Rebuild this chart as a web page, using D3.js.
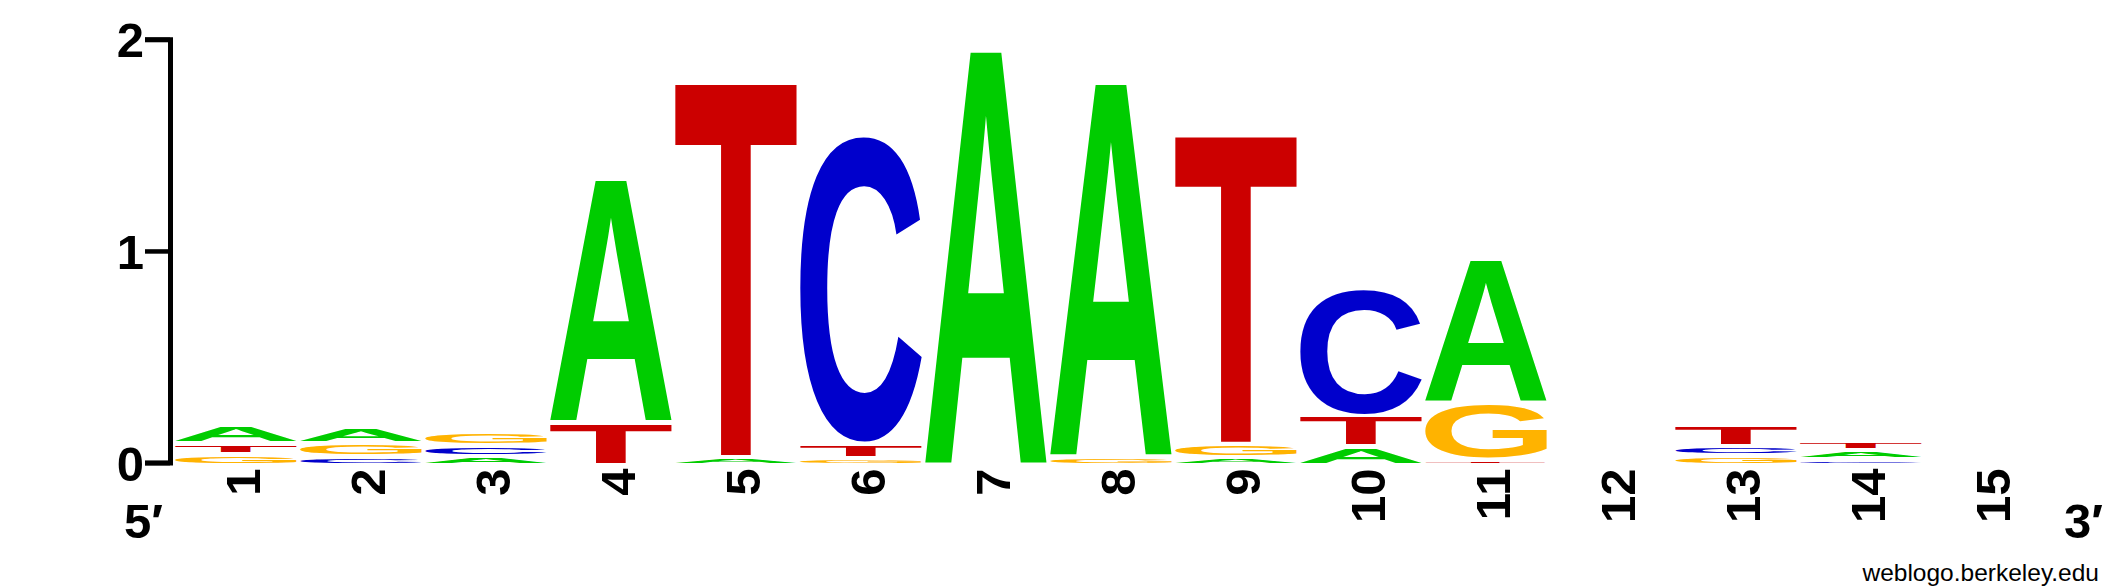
<!DOCTYPE html>
<html><head><meta charset="utf-8">
<script src="https://cdn.jsdelivr.net/npm/d3@7"></script>
<style>body{margin:0;background:#fff}svg{display:block}</style>
</head><body><svg id="c" width="2125" height="588"></svg>
<script>
// ---- data (bits per letter per position) ----
const positions = ["1","2","3","4","5","6","7","8","9","10","11","12","13","14","15"];
const bitsA = [0.085,0.077,0.041,1.150,0.036,0,    1.957,1.765,0.036,0.088,0.677,0,0,    0.044,0];
const bitsC = [0,    0.041,0.051,0,    0,    1.457,0,    0,    0,    0.603,0,    0,0.045,0.026,0];
const bitsG = [0.050,0.061,0.064,0,    0,    0.031,0,    0.039,0.063,0,    0.267,0,0.044,0,    0];
const bitsT = [0.051,0,    0,    0.201,1.768,0.068,0,    0,    1.457,0.145,0.024,0,0.096,0.045,0];
const yTicks = [0,1,2];
const letters = ["A","C","G","T"];
const colours = {A:"#00CC00", C:"#0000CC", G:"#FFB300", T:"#CC0000"};
const bits = {A:bitsA, C:bitsC, G:bitsG, T:bitsT};

// ---- layout ----
const svg = d3.select("#c");
const FONT = "'Liberation Sans', Arial, Helvetica, sans-serif";
const y = d3.scaleLinear().domain([0,2]).range([462.6, 39.3]);
const x = d3.scaleBand().domain(positions).range([173.5, 2048.5]);
const gap = 4.3, inset = 2;

// measure glyph ink boxes by scanning pixels (font-size 500 -> scaled to 100)
const S = 500, OX = 200, OY = 700;
const cv = document.createElement("canvas"); cv.width = 1000; cv.height = 1000;
const ctx = cv.getContext("2d");
ctx.font = `bold ${S}px 'Liberation Sans'`;
ctx.textBaseline = "alphabetic";
const ink = {};
letters.forEach(l => {
  ctx.clearRect(0,0,1000,1000);
  ctx.fillStyle = "#000";
  ctx.fillText(l, OX, OY);
  const data = ctx.getImageData(0,0,1000,1000).data;
  let x0=1e9,x1=-1,y0=1e9,y1=-1;
  for (let yy=0; yy<1000; yy++) for (let xx=0; xx<1000; xx++) {
    if (data[(yy*1000+xx)*4+3] >= 128) {
      if (xx<x0) x0=xx; if (xx>x1) x1=xx; if (yy<y0) y0=yy; if (yy>y1) y1=yy;
    }
  }
  const k = 100 / S;
  ink[l] = {L:(OX-x0)*k, R:(x1+1-OX)*k, A:(OY-y0)*k, D:(y1+1-OY)*k};
});

// stacks
const glyphs = [];
positions.forEach((p,i) => {
  const col = letters.map(l => ({l, v:bits[l][i]})).filter(d => d.v > 0)
    .sort((a,b) => a.v - b.v);
  let base = 0;
  col.forEach(d => {
    const yb = y(base), yt = y(base + d.v);
    let h = yb - yt - gap; if (h < 0.8) h = 0.8;
    glyphs.push({l:d.l, x0:x(p)+inset, w:x.bandwidth()-2*inset, top:yb-h, h});
    base += d.v;
  });
});

svg.append("g").selectAll("text").data(glyphs).join("text")
  .attr("font-family", FONT).attr("font-weight","bold").attr("font-size","100px")
  .attr("fill", d => colours[d.l])
  .attr("transform", d => {
    const g = ink[d.l];
    const sx = d.w / (g.L + g.R), sy = d.h / (g.A + g.D);
    return `translate(${d.x0 + g.L*sx},${d.top + g.A*sy}) scale(${sx},${sy})`;
  })
  .text(d => d.l);

// y axis
const yAxis = d3.axisLeft(y).tickValues(yTicks).tickSize(25).tickSizeOuter(25).tickPadding(1)
  .tickFormat(d3.format("d"));
const ga = svg.append("g").attr("transform","translate(170,0)").call(yAxis);
ga.select(".domain").attr("stroke","#000").attr("stroke-width",5).attr("fill","none")
  .attr("stroke-linejoin","miter");
ga.selectAll(".tick line").attr("stroke","#000").attr("stroke-width",4.5);
ga.selectAll(".tick text").attr("font-family",FONT).attr("font-weight","bold")
  .attr("font-size","49px").attr("fill","#000").attr("dy","0.36em");

// x labels (rotated)
svg.append("g").selectAll("text").data(positions).join("text")
  .attr("font-family",FONT).attr("font-weight","bold").attr("font-size","49px")
  .attr("text-anchor","end")
  .attr("transform", d => `translate(${x(d)+x.bandwidth()/2+23.5},468.5) rotate(-90)`)
  .text(d => d);

// ends
svg.append("text").attr("x",124).attr("y",538).attr("font-family",FONT)
  .attr("font-weight","bold").attr("font-size","49px").text("5\u2032");
svg.append("text").attr("x",2064).attr("y",538).attr("font-family",FONT)
  .attr("font-weight","bold").attr("font-size","49px").text("3\u2032");
svg.append("text").attr("x",2099).attr("y",581).attr("text-anchor","end")
  .attr("font-family",FONT).attr("font-size","24.5px").text("weblogo.berkeley.edu");
</script></body></html>
